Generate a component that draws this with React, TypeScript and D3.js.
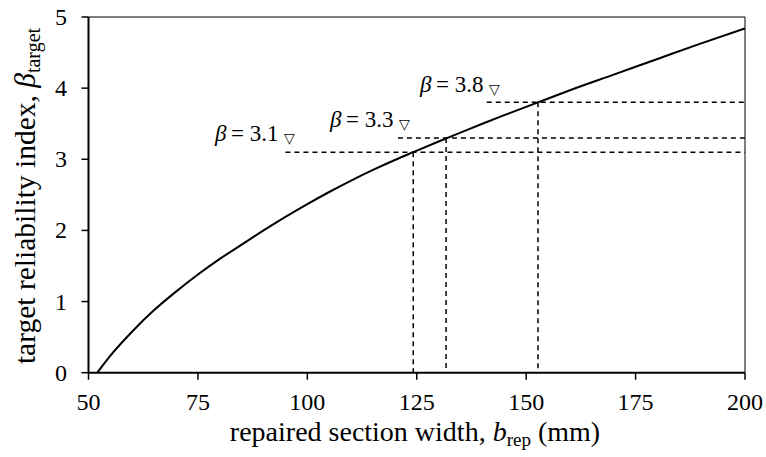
import React from "react";
import * as d3 from "d3";

// curve data: repaired section width (mm) vs target reliability index
const widthValues = [52, 55, 60, 65, 70, 75, 80, 85, 90, 95, 100, 105, 110, 115, 120, 124.2, 130, 135, 140, 145, 152.7, 160, 170, 180, 190, 200];
const betaValues = [0, 0.24, 0.58, 0.88, 1.14, 1.38, 1.6, 1.8, 2.0, 2.19, 2.37, 2.54, 2.7, 2.85, 2.99, 3.1, 3.25, 3.375, 3.5, 3.62, 3.8, 3.97, 4.19, 4.41, 4.63, 4.84];

// annotated target levels
const targetBetas = [3.1, 3.3, 3.8];
const targetWidths = [124.2, 131.7, 152.7];
const guideStarts = [95, 120.7, 141];
const targetLabels = ["3.1", "3.3", "3.8"];

const xTicks = [50, 75, 100, 125, 150, 175, 200];
const yTicks = [0, 1, 2, 3, 4, 5];

const W = 766;
const H = 457;
const FONT = "'Liberation Serif', 'Times New Roman', Times, serif";
const tStyle = { fontFamily: FONT };

export default function App() {
  const x = d3.scaleLinear().domain([50, 200]).range([88.5, 745]);
  const y = d3.scaleLinear().domain([0, 5]).range([372.7, 17]);

  const pts: [number, number][] = widthValues.map((w, i) => [w, betaValues[i]]);
  const line = d3
    .line<[number, number]>()
    .x((d) => x(d[0]))
    .y((d) => y(d[1]))
    .curve(d3.curveMonotoneX);

  const [x0, x1] = x.range();
  const [y0, y1] = y.range();

  const labelPos = [
    { lx: 215, ly: 141 },
    { lx: 330, ly: 127 },
    { lx: 420, ly: 92 },
  ];

  return (
    <svg
      width={W}
      height={H}
      style={{ position: "absolute", left: 0, top: 0, background: "#fff" }}
    >
      <rect x={0} y={0} width={W} height={H} fill="#fff" />
      <line x1={x0} x2={x1} y1={y1} y2={y1} stroke="#000" strokeWidth={1} />
      <line x1={x1} x2={x1} y1={y1} y2={y0} stroke="#000" strokeWidth={1} />

      {targetBetas.map((b, i) => (
        <g key={"g" + i}>
          <line
            x1={x(guideStarts[i])}
            x2={x1}
            y1={y(b)}
            y2={y(b)}
            stroke="#000"
            strokeWidth={1.5}
            strokeDasharray="5,4"
          />
          <line
            x1={x(targetWidths[i])}
            x2={x(targetWidths[i])}
            y1={y(b)}
            y2={y0}
            stroke="#000"
            strokeWidth={1.5}
            strokeDasharray="5,4"
          />
        </g>
      ))}

      <path d={line(pts) || ""} fill="none" stroke="#000" strokeWidth={2} />

      <line x1={x0} x2={x1} y1={y0} y2={y0} stroke="#000" strokeWidth={2} />
      <line x1={x0} x2={x0} y1={y0} y2={y1} stroke="#000" strokeWidth={2} />

      {xTicks.map((t) => (
        <g key={"xt" + t}>
          <line x1={x(t)} x2={x(t)} y1={y0} y2={y0 + 7} stroke="#000" strokeWidth={1.5} />
          <text x={x(t)} y={410} fontSize={24} textAnchor="middle" style={tStyle}>
            {t}
          </text>
        </g>
      ))}
      {yTicks.map((t) => (
        <g key={"yt" + t}>
          <line x1={x0 - 7} x2={x0} y1={y(t)} y2={y(t)} stroke="#000" strokeWidth={1.5} />
          <text x={67} y={y(t) + 8} fontSize={24} textAnchor="end" style={tStyle}>
            {t}
          </text>
        </g>
      ))}

      {targetLabels.map((lab, i) => (
        <text key={"l" + i} x={labelPos[i].lx} y={labelPos[i].ly} fontSize={23} style={tStyle}>
          <tspan fontStyle="italic">β</tspan>
          <tspan>{"\u2009= " + lab}</tspan>
          <tspan fontSize={14} dx={5} dy={2}>▽</tspan>
        </text>
      ))}

      <text x={415} y={441} fontSize={28} textAnchor="middle" style={tStyle}>
        <tspan>repaired section width, </tspan>
        <tspan fontStyle="italic">b</tspan>
        <tspan fontSize={19} dy={5}>rep</tspan>
        <tspan dy={-5}> (mm)</tspan>
      </text>
      <text transform="translate(35,196) rotate(-90)" fontSize={29.5} textAnchor="middle" style={tStyle}>
        <tspan>target reliability index, </tspan>
        <tspan fontStyle="italic">β</tspan>
        <tspan fontSize={20} dy={5}>target</tspan>
      </text>
    </svg>
  );
}
